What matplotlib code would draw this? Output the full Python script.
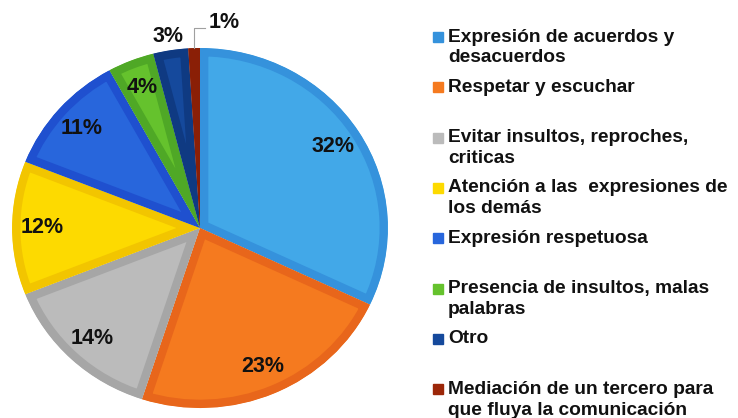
import numpy as np
import matplotlib.pyplot as plt

plt.rcParams['font.family'] = ['Liberation Sans', 'DejaVu Sans']

# shares in percent, clockwise from 12 o'clock
values = [32, 23, 14, 12, 11, 4, 3, 1]
labels = ["Expresión de acuerdos y\ndesacuerdos",
          "Respetar y escuchar",
          "Evitar insultos, reproches,\ncriticas",
          "Atención a las  expresiones de\nlos demás",
          "Expresión respetuosa",
          "Presencia de insultos, malas\npalabras",
          "Otro",
          "Mediación de un tercero para\nque fluya la comunicación"]
fills = ["#42A8E8", "#F57A1F", "#BBBBBB", "#FDDA00",
         "#2866DC", "#65C22D", "#15499C", "#9C2709"]
edges = ["#3592DC", "#E8661B", "#A6A6A6", "#F2C500",
         "#1F50CF", "#4FA826", "#0F3A82", "#8A1F06"]

fig = plt.figure(figsize=(7.38, 4.18), dpi=100)
ax = fig.add_axes([0, 0, 1, 1])

# pixel-like units; the original pie is slightly wider than tall
sx = 1.044
cx, cy, r = 200 / sx, 418 - 228, 180
wedges, _ = ax.pie(values, colors=fills, startangle=90, counterclock=False,
                   center=(cx, cy), radius=r,
                   wedgeprops=dict(linewidth=12, edgecolor='none'))
for w, ec in zip(wedges, edges):
    w.set_edgecolor(ec)
    w.set_clip_on(True)
    w.set_clip_path(w)  # keep only the inner half of the border

ax.set_xlim(0, 738 / sx)
ax.set_ylim(0, 418)
ax.set_aspect('auto')
ax.axis('off')

# percentage labels
for i, (w, v) in enumerate(zip(wedges, values)):
    ang = np.deg2rad((w.theta1 + w.theta2) / 2)
    if i < 6:
        d = 0.84
    elif i == 6:
        d = 1.075
    else:
        continue
    ax.text(cx + d * r * np.cos(ang), cy + d * r * np.sin(ang), f"{v}%",
            ha='center', va='center', fontsize=15.5, fontweight='bold',
            color='#111111')

# leader line for the smallest slice
w = wedges[-1]
ang = np.deg2rad((w.theta1 + w.theta2) / 2)
x0, y0 = cx + r * np.cos(ang), cy + r * np.sin(ang)
y1 = cy + 1.11 * r
ax.plot([x0, x0, x0 + 10], [y0, y1, y1], color='#A0A0A0', lw=0.8)
ax.text(x0 + 14, y1 + 6, f"{values[-1]}%", ha='left', va='center',
        fontsize=15.5, fontweight='bold', color='#111111')

# legend, fixed slot per entry
top = 418 - 37
step = 50.3
for i, (lab, c) in enumerate(zip(labels, edges)):
    y = top - i * step
    ax.add_patch(plt.Rectangle((433 / sx, y - 5), 10 / sx, 10,
                               color=fills[i] if i != 0 else c, clip_on=False))
    first, *rest = lab.split("\n")
    ax.text(448 / sx, y, first, ha='left', va='center', fontsize=13.8,
            fontweight='bold', color='#111111')
    if rest:
        ax.text(448 / sx, y - 21, rest[0], ha='left', va='center', fontsize=13.8,
                fontweight='bold', color='#111111')

fig.savefig("out.png", dpi=100)
